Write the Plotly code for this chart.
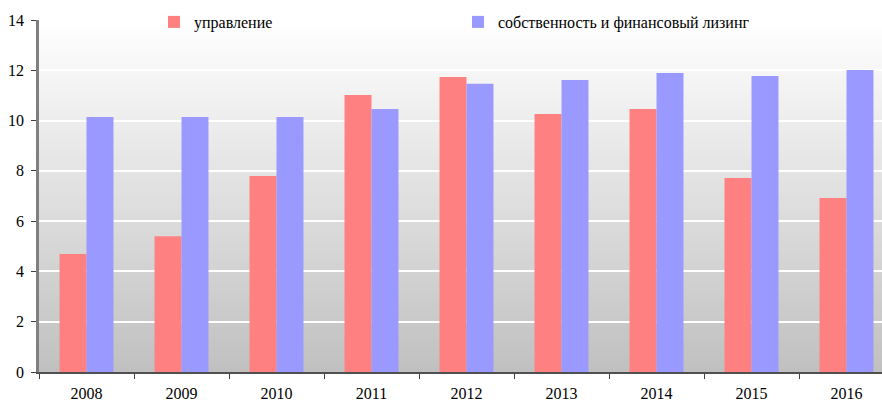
import plotly.graph_objects as go

years = ["2008", "2009", "2010", "2011", "2012", "2013", "2014", "2015", "2016"]
upravlenie = [4.69, 5.4, 7.8, 11.02, 11.73, 10.26, 10.46, 7.72, 6.92]
sobstv = [10.14, 10.14, 10.14, 10.46, 11.46, 11.61, 11.89, 11.77, 12.01]
name1 = "управление"
name2 = "собственность и финансовый лизинг"

W, H = 882, 401
L, R, T, B = 39, 0, 20, 29
pw = W - L - R
ph = H - T - B

fig = go.Figure()
fig.add_trace(go.Bar(x=years, y=upravlenie, name=name1, marker_color="#FF8080",
                     marker_line_width=0, legend="legend", showlegend=True))
fig.add_trace(go.Bar(x=years, y=sobstv, name=name2, marker_color="#9999FF",
                     marker_line_width=0, legend="legend2", showlegend=True))

# gradient background
n = 80
shapes = []
for i in range(n):
    y0 = i / n
    y1 = (i + 1) / n
    t = 1 - (y0 + y1) / 2  # 0 top, 1 bottom
    v = round(255 - (255 - 192) * t)
    shapes.append(dict(type="rect", xref="paper", yref="paper", x0=0, x1=1,
                       y0=y0, y1=y1 + 0.002, fillcolor=f"rgb({v},{v},{v})",
                       line_width=0, layer="below"))

font = dict(family="Times New Roman, Liberation Serif, DejaVu Serif, serif", size=16, color="#000000")

fig.update_layout(
    width=W, height=H,
    margin=dict(l=L, r=R, t=T, b=B, pad=0, autoexpand=False),
    paper_bgcolor="white", plot_bgcolor="rgba(0,0,0,0)",
    barmode="group", bargap=0.432, bargroupgap=0,
    shapes=shapes, showlegend=True,
    font=font,
    legend=dict(x=(154 - L) / pw, y=1 - 2 / ph, xanchor="left", yanchor="middle",
                bgcolor="rgba(0,0,0,0)", font=font, orientation="h"),
    legend2=dict(x=(458 - L) / pw, y=1 - 2 / ph, xanchor="left", yanchor="middle",
                 bgcolor="rgba(0,0,0,0)", font=font, orientation="h"),
    xaxis=dict(range=[-0.5, 8.5 - 12 / 95], showgrid=False, showline=True,
               linecolor="#505050", linewidth=1.5, ticks="outside", tickson="boundaries",
               ticklen=5, tickcolor="#404040", tickwidth=1, tickfont=font,
               ticklabelstandoff=6, fixedrange=True),
    yaxis=dict(range=[0, 14], dtick=2, showgrid=True, gridcolor="white", gridwidth=1.5,
               zeroline=False, showline=True, linecolor="#808080", linewidth=2.5,
               ticks="outside", ticklen=5, tickcolor="#404040", tickwidth=1,
               tickfont=font, ticklabelstandoff=4, fixedrange=True),
)

fig.write_html("out.html", config={"displayModeBar": False},
               post_script="document.body.style.margin='0';document.body.style.padding='0';")
